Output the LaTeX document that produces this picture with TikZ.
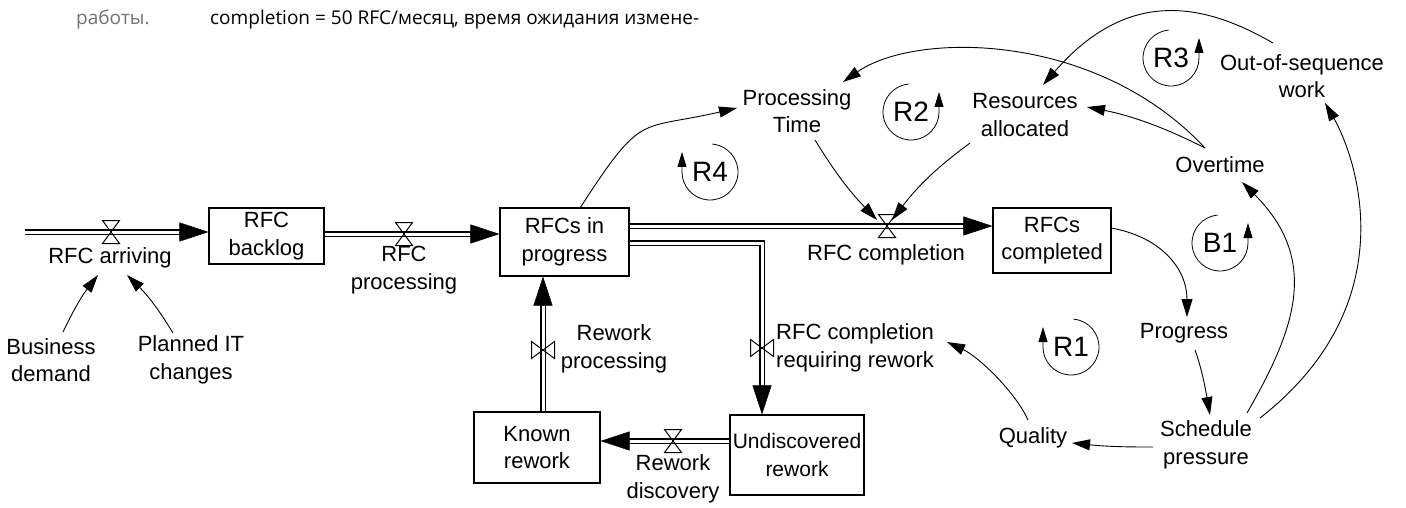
\documentclass[tikz,border=0pt]{standalone}
\usepackage{fontspec}
\setmainfont{Liberation Sans}
\newfontfamily\notefont{Open Sans}
\usetikzlibrary{arrows.meta,calc}

\begin{document}
\begin{tikzpicture}[x=1pt,y=1pt,
  every node/.style={font=\fontsize{22}{27.5}\selectfont, inner sep=0pt, align=center},
  stock/.style={draw, line width=1.1pt},
  pipe/.style={draw, line width=1.2pt, double=white, double distance=3pt, shorten >=20pt},
  flowhead/.style={line width=0.4pt, -{Triangle[length=29pt,width=19pt]}},
  link/.style={line width=0.9pt, -{Triangle[length=18pt,width=11pt]}},
  loopl/.style={line width=0.8pt, -{Triangle[length=15pt,width=9pt]}},
  looplabel/.style={font=\fontsize{28}{30}\selectfont},
  note/.style={anchor=base west, font=\notefont\fontsize{19}{22}\selectfont},
  valveh/.pic={\draw[line width=1pt] (-8.5,11.5) -- (8.5,11.5) -- (-8.5,-11.5) -- (8.5,-11.5) -- cycle;},
  valvev/.pic={\draw[line width=1pt] (-11.5,8.5) -- (-11.5,-8.5) -- (11.5,8.5) -- (11.5,-8.5) -- cycle;},
]
\useasboundingbox[fill=white] (0,0) rectangle (1406,-508);

% running text above the model
\node[note, text=black!55] (noteA) at (76,-25) {работы.};
\node[note] (noteB) at (210,-25) {completion = 50 RFC/месяц, время ожидания измене-};

% stocks
\node[stock, minimum width=115pt, minimum height=56pt] (backlog) at (266.5,-236) {RFC\\backlog};
\node[stock, minimum width=129pt, minimum height=68pt] (inprog) at (564.5,-242) {RFCs in\\progress};
\node[stock, minimum width=118pt, minimum height=65pt] (completed) at (1052,-240.5) {RFCs\\completed};
\node[stock, minimum width=126pt, minimum height=71pt] (known) at (537,-447.5) {Known\\rework};
\node[stock, minimum width=134pt, minimum height=80pt, font=\fontsize{21}{27.5}\selectfont] (undisc) at (797,-455) {Undiscovered\\rework};

% flow labels
\node (arrlab) at (110,-258) {RFC arriving};
\node (proclab) at (404,-270) {RFC\\processing};
\node (complab) at (886,-255) {RFC completion};
\node[anchor=west, align=left] (reqlab) at (776,-348) {RFC completion\\requiring rework};
\node (rplab) at (614,-349) {Rework\\processing};
\node (disclab) at (673,-479) {Rework\\discovery};

% auxiliaries
\node (bd) at (51,-360) {Business\\demand};
\node (pit) at (191,-360) {Planned IT\\changes};
\node (pt) at (797,-111) {Processing\\Time};
\node (res) at (1025,-115) {Resources\\allocated};
\node (ot) at (1220,-165) {Overtime};
\node (oos) at (1302,-76) {Out-of-sequence\\work};
\node (prog) at (1184,-333) {Progress};
\node (sp) at (1206,-445) {Schedule\\pressure};
\node (qual) at (1033,-438) {Quality};

% valve positions
\coordinate (src) at (25,-232);
\coordinate (varr) at (111,-232);
\coordinate (vproc) at (404,-234);
\coordinate (vcomp) at (887,-226);
\coordinate (rcorner) at (762,-243);
\coordinate (vreq) at (762,-348);
\coordinate (vrp) at (543,-350);
\coordinate (vdisc) at (673,-441);

% pipes
\coordinate (arrEnd) at (varr -| backlog.west);
\draw[pipe] (src) -- (arrEnd);
\draw[flowhead] ([xshift=-29pt]arrEnd) -- (arrEnd);

\coordinate (procEnd) at (vproc -| inprog.west);
\draw[pipe] (vproc -| backlog.east) -- (procEnd);
\draw[flowhead] ([xshift=-29pt]procEnd) -- (procEnd);

\coordinate (compEnd) at (vcomp -| completed.west);
\draw[pipe] (vcomp -| inprog.east) -- (compEnd);
\draw[flowhead] ([xshift=-29pt]compEnd) -- (compEnd);

\coordinate (reqEnd) at (rcorner |- undisc.north);
\draw[pipe] (rcorner -| inprog.east) -- (rcorner) -- (reqEnd);
\draw[flowhead] ([yshift=29pt]reqEnd) -- (reqEnd);

\coordinate (rpEnd) at (vrp |- inprog.south);
\draw[pipe] (vrp |- known.north) -- (rpEnd);
\draw[flowhead] ([yshift=-29pt]rpEnd) -- (rpEnd);

\coordinate (discEnd) at (vdisc -| known.east);
\draw[pipe] (vdisc -| undisc.west) -- (discEnd);
\draw[flowhead] ([xshift=29pt]discEnd) -- (discEnd);

% valves
\pic at (varr) {valveh};
\pic at (vproc) {valveh};
\pic at (vcomp) {valveh};
\pic at (vdisc) {valveh};
\pic at (vreq) {valvev};
\pic at (vrp) {valvev};

% causal links
\draw[link] ([shift={(12,28)}]bd.center) to[bend left=6] ([shift={(-12,-17)}]arrlab.center);
\draw[link] ([shift={(-18,27)}]pit.center) to[bend right=7] ([shift={(17,-17)}]arrlab.center);
\draw[link] ([shift={(15.5,34)}]inprog.center) .. controls +(57:116) and +(193:102) .. ([shift={(-60,3)}]pt.center);
\draw[link] ([shift={(18,-29)}]pt.center) to[bend right=6] ([shift={(-10,6)}]vcomp);
\draw[link] ([shift={(-55,-28)}]res.center) to[bend right=8] ([shift={(5,6)}]vcomp);
\draw[link] ([shift={(-15,17)}]ot.center) .. controls +(133:160) and +(35:88) .. ([shift={(46,29)}]pt.center);
\draw[link] ([shift={(-15,17)}]ot.center) .. controls +(153:45) and +(-11:45) .. ([shift={(62,8)}]res.center);
\draw[link] ([shift={(-29,33)}]oos.center) .. controls +(150:78) and +(49:131) .. ([shift={(18,30)}]res.center);
\draw[link] ([shift={(59,12.5)}]completed.center) .. controls +(-10:51) and +(90:48) .. ([shift={(3,16)}]prog.center);
\draw[link] ([shift={(11,-17)}]prog.center) .. controls +(-70:22) and +(100:22) .. ([shift={(4,30)}]sp.center);
\draw[link] ([shift={(-53,-2)}]sp.center) to[bend left=3] ([shift={(39,-5)}]qual.center);
\draw[link] ([shift={(-5,18)}]qual.center) .. controls +(114:30) and +(-25:35) .. ([shift={(171,6)}]reqlab.west);
\draw[link] ([shift={(41,32)}]sp.center) .. controls +(60:98) and +(-45:110) .. ([shift={(22,-17)}]ot.center);
\draw[link] ([shift={(54,27)}]sp.center) .. controls +(38:190) and +(-60:58) .. ([shift={(23,-27)}]oos.center);

% loop identifiers
\node[looplabel] (r4) at (710,-172) {R4};
\node[looplabel] (r2) at (911,-112) {R2};
\node[looplabel] (r3) at (1171,-58) {R3};
\node[looplabel] (b1) at (1220,-243) {B1};
\node[looplabel] (r1) at (1071,-347) {R1};
\draw[loopl] ([shift={(85:28)}]r4.center) arc[start angle=85, end angle=-180, radius=28] -- ++(0,20);
\draw[loopl] ([shift={(85:28)}]r1.center) arc[start angle=85, end angle=-180, radius=28] -- ++(0,20);
\draw[loopl] ([shift={(95:28)}]r2.center) arc[start angle=95, end angle=360, radius=28] -- ++(0,20);
\draw[loopl] ([shift={(95:28)}]r3.center) arc[start angle=95, end angle=360, radius=28] -- ++(0,20);
\draw[loopl] ([shift={(95:28)}]b1.center) arc[start angle=95, end angle=360, radius=28] -- ++(0,20);
\end{tikzpicture}
\end{document}
